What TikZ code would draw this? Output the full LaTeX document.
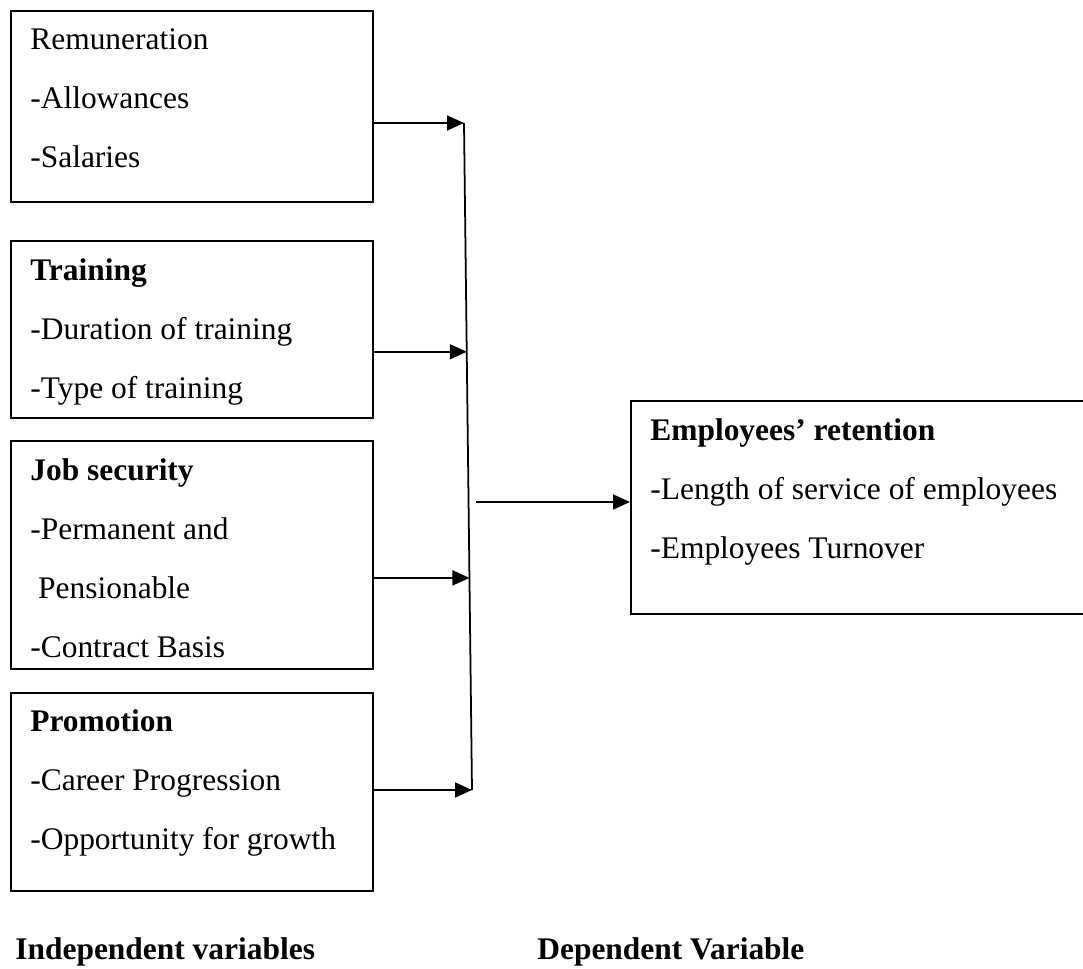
\documentclass[tikz,border=0pt]{standalone}
\usepackage{fontspec}
\setmainfont{Liberation Serif}
\usepackage{tikz}
\usetikzlibrary{positioning, arrows.meta, calc}

\tikzset{
    box/.style={draw, line width=1pt, rectangle, inner sep=0pt, anchor=north west},
    boxtext/.style={inner sep=0pt, align=left, font=\fontsize{17.9}{33.6}\selectfont},
    caption/.style={inner sep=0pt, anchor=base west, font=\fontsize{17.9}{22}\selectfont\bfseries},
    link/.style={line width=1pt, -{Triangle[length=0.34cm, width=0.3cm]}}
}

\begin{document}
\begin{tikzpicture}[x=0.02cm, y=-0.02cm]
    \useasboundingbox (0,0) rectangle (1083,968);

    % independent variables
    \node[box, minimum width=7.24cm, minimum height=3.82cm] (rem) at (10,10) {};
    \node[boxtext, below right=0.36cm and 0.4cm of rem.north west] (remtxt)
        {Remuneration\\-Allowances\\-Salaries};

    \node[box, minimum width=7.24cm, minimum height=3.54cm] (train) at (10,240) {};
    \node[boxtext, below right=0.36cm and 0.4cm of train.north west] (traintxt)
        {\textbf{Training}\\-Duration of training\\-Type of training};

    \node[box, minimum width=7.24cm, minimum height=4.56cm] (job) at (10,440) {};
    \node[boxtext, below right=0.36cm and 0.4cm of job.north west] (jobtxt)
        {\textbf{Job security}\\-Permanent and\\\ Pensionable\\-Contract Basis};

    \node[box, minimum width=7.24cm, minimum height=3.96cm] (promo) at (10,692) {};
    \node[boxtext, below right=0.34cm and 0.4cm of promo.north west] (promotxt)
        {\textbf{Promotion}\\-Career Progression\\-Opportunity for growth};

    % dependent variable
    \node[box, minimum width=9.2cm, minimum height=4.26cm] (ret) at (630,400) {};
    \node[boxtext, below right=0.36cm and 0.4cm of ret.north west] (rettxt)
        {\textbf{Employees’ retention}\\-Length of service of employees\\-Employees Turnover};

    % spine
    \coordinate (sT) at (464,123);
    \coordinate (sB) at (472,790);
    \coordinate (s2) at ($(sT)!0.343!(sB)$);
    \coordinate (s3) at ($(sT)!0.682!(sB)$);
    \coordinate (sOut) at (476,502);

    \draw[line width=1pt] (sT) -- (sB);
    \draw[link] (rem.east |- sT) -- (sT);
    \draw[link] (train.east |- s2) -- (s2);
    \draw[link] (job.east |- s3) -- (s3);
    \draw[link] (promo.east |- sB) -- (sB);
    \draw[link] (sOut) -- (ret.west |- sOut);

    \node[caption] (indep) at (15,959) {Independent variables};
    \node[caption] (dep) at (537,959) {Dependent Variable};
\end{tikzpicture}
\end{document}
